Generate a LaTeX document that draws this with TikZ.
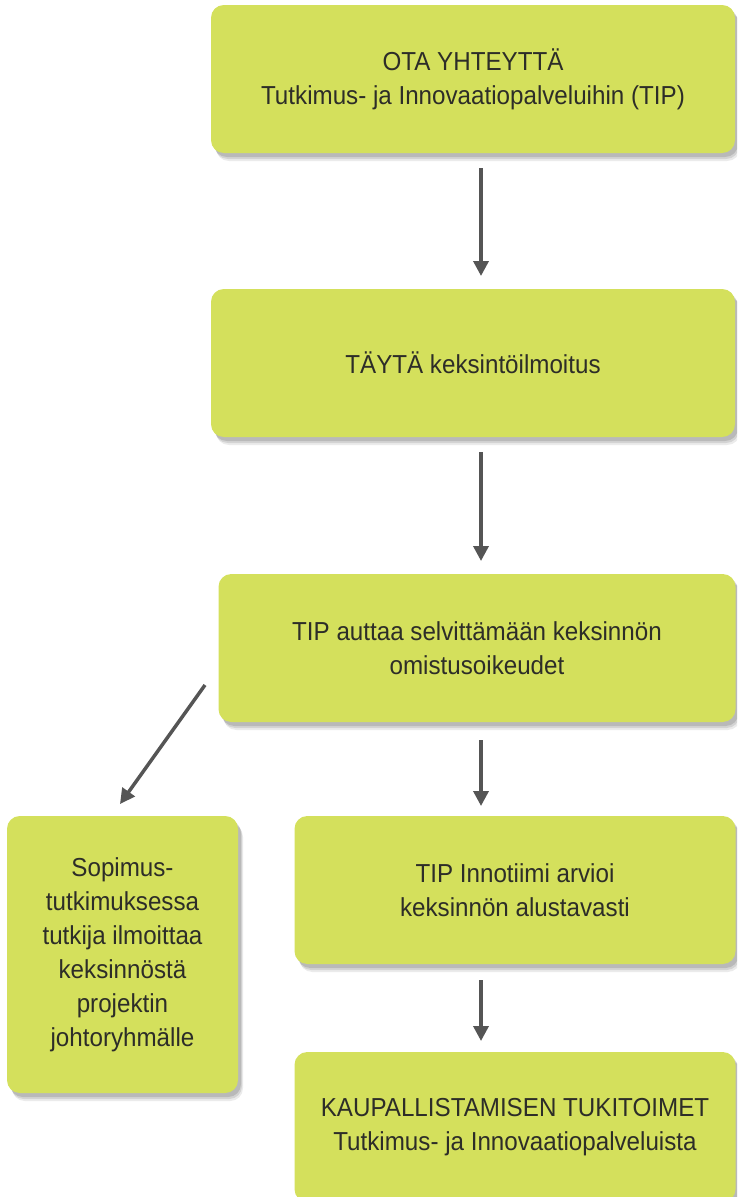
\documentclass[tikz,border=0pt]{standalone}
\usepackage{fontspec}
\setmainfont{Liberation Sans}[FakeStretch=0.93]
\usepackage{xcolor}
\usepackage{tikz}
\usetikzlibrary{shapes,arrows,arrows.meta,positioning,shadows}

\definecolor{tipgreen}{RGB}{212,224,92}
\definecolor{tiptext}{RGB}{45,45,40}
\definecolor{tiparrow}{RGB}{85,85,85}

\tikzset{
    stepbox/.style={
        rectangle,
        rounded corners=0.45cm,
        fill=tipgreen,
        text=tiptext,
        align=center,
        font=\fontsize{26}{34}\selectfont,
        general shadow={shadow xshift=5pt, shadow yshift=-8pt, opacity=0.08, fill=black},
        general shadow={shadow xshift=4pt, shadow yshift=-6pt, opacity=0.1, fill=black},
        general shadow={shadow xshift=3pt, shadow yshift=-4pt, opacity=0.12, fill=black}
    },
    flow/.style={
        -{Triangle[width=15pt,length=15pt]},
        line width=3.5pt,
        color=tiparrow
    }
}

\begin{document}
\begin{tikzpicture}[x=1pt,y=-1pt]
                \useasboundingbox (0,0) rectangle (737,1197);
                \clip (0,0) rectangle (737,1197);

                % main column
                \node[stepbox, minimum width=524pt, minimum height=148pt] (contact) at (473,79)
                    {OTA YHTEYTT\"A\\Tutkimus- ja Innovaatiopalveluihin (TIP)};

                \node[stepbox, minimum width=524pt, minimum height=148pt] (notice) at (473,363)
                    {T\"AYT\"A keksint\"oilmoitus};

                \node[stepbox, minimum width=517pt, minimum height=148pt] (owner) at (477,648)
                    {TIP auttaa selvitt\"am\"a\"an keksinn\"on\\omistusoikeudet};

                \node[stepbox, minimum width=441pt, minimum height=148pt] (assess) at (515,890)
                    {TIP Innotiimi arvioi\\keksinn\"on alustavasti};

                \node[stepbox, minimum width=441pt, minimum height=150pt] (support) at (515,1127)
                    {KAUPALLISTAMISEN TUKITOIMET\\Tutkimus- ja Innovaatiopalveluista};

                % side branch
                \node[stepbox, minimum width=231pt, minimum height=277pt] (contract) at (122.5,954.5)
                    {Sopimus-\\tutkimuksessa\\tutkija ilmoittaa\\keksinn\"ost\"a\\projektin\\johtoryhm\"alle};

                \coordinate (c1) at (481,168);
                \coordinate (c2) at (481,276);
                \coordinate (n1) at (481,452);
                \coordinate (n2) at (481,561);
                \coordinate (o1) at (481,740);
                \coordinate (o2) at (481,806);
                \coordinate (a1) at (481,980);
                \coordinate (a2) at (481,1041);
                \coordinate (d1) at (205,685);
                \coordinate (d2) at (120,804);

                \draw[flow] (c1) -- (c2);
                \draw[flow] (n1) -- (n2);
                \draw[flow] (o1) -- (o2);
                \draw[flow] (a1) -- (a2);
                \draw[flow] (d1) -- (d2);

            \end{tikzpicture}
\end{document}
